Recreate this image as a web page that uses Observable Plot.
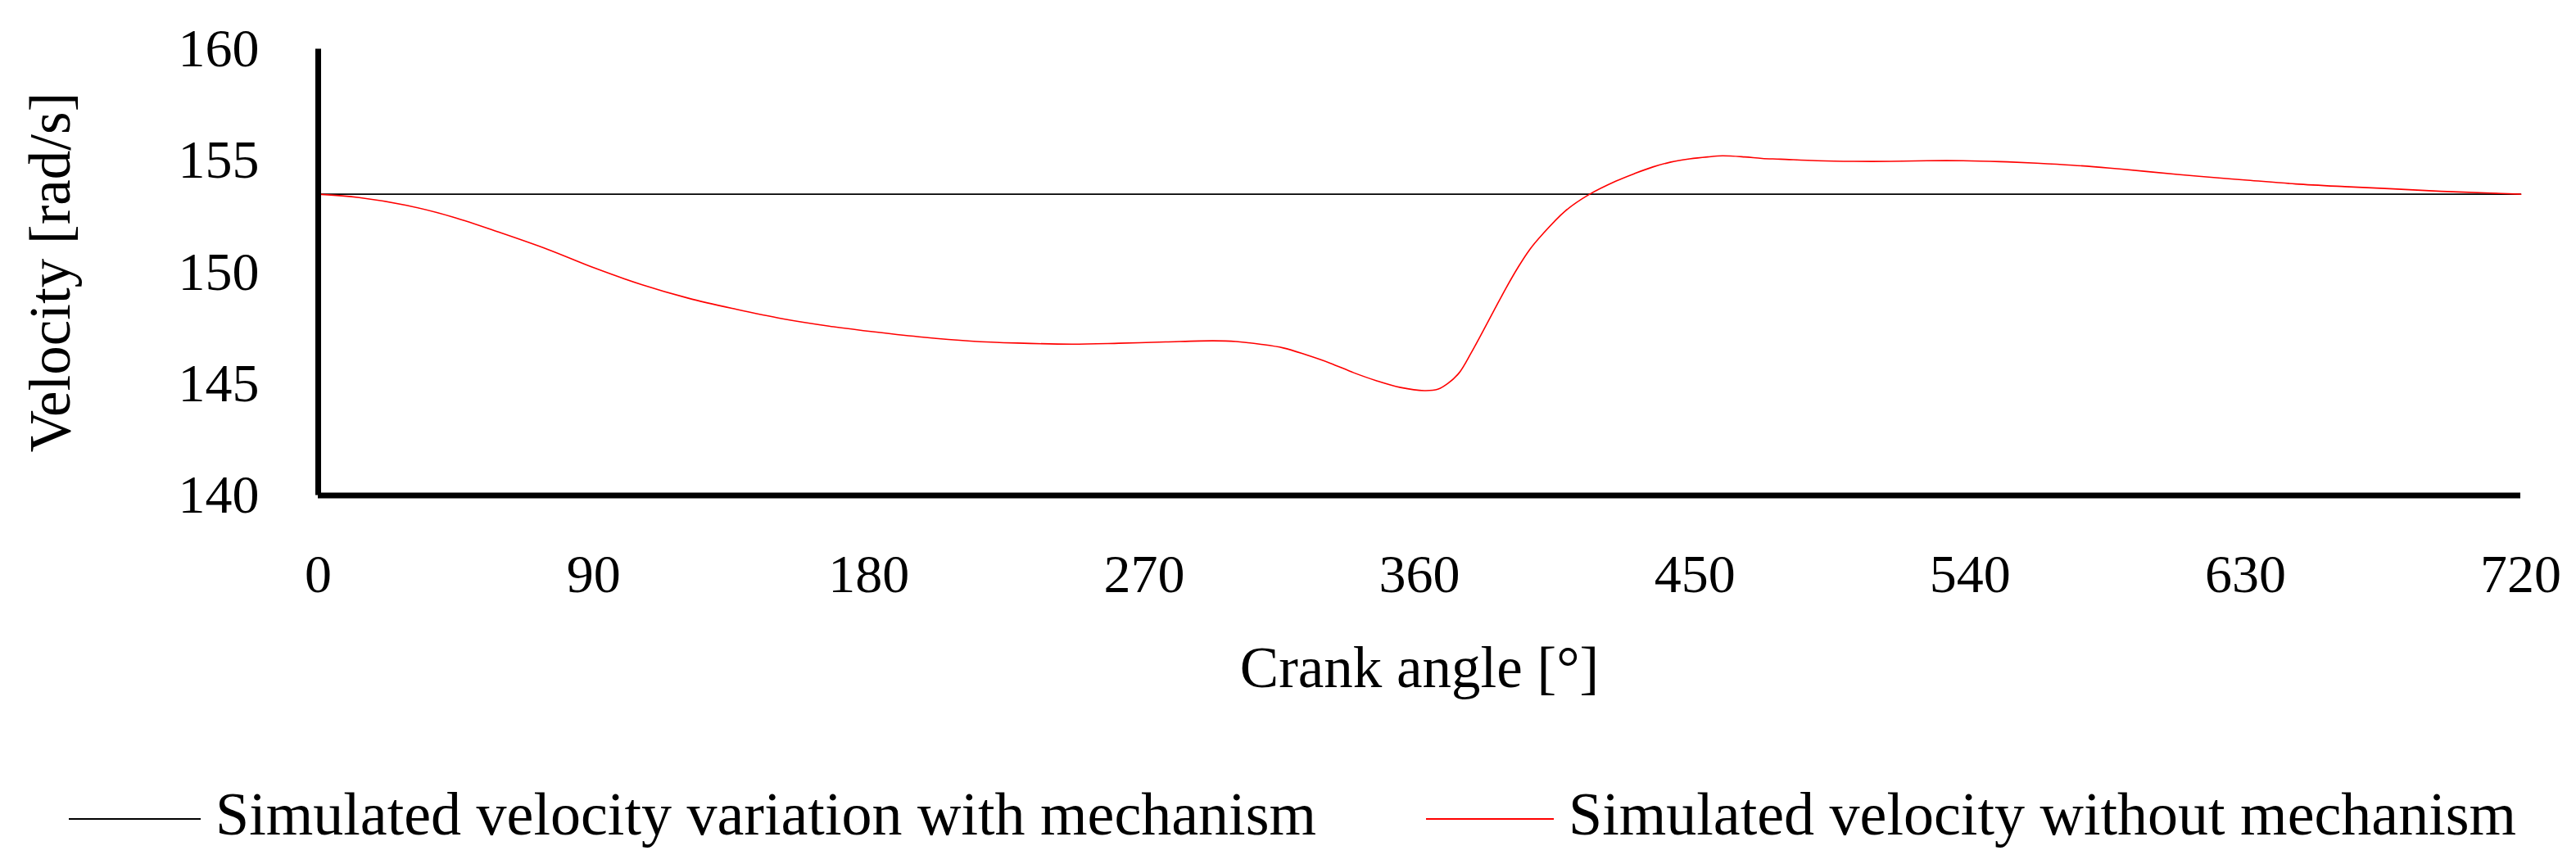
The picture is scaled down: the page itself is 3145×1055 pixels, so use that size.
<!DOCTYPE html>
<html>
<head>
<meta charset="utf-8">
<script src="https://cdn.jsdelivr.net/npm/d3@7"></script>
<script src="https://cdn.jsdelivr.net/npm/@observablehq/plot@0.6"></script>
<style>
  html, body { margin: 0; padding: 0; background: #fff; }
  #wrap { width: 3145px; font-family: "Liberation Serif", serif; color: #000; }
  #legend { position: relative; width: 3145px; height: 125px; font-family: "Liberation Serif", serif; font-size: 74px; }
  .sw { position: absolute; height: 0; }
  .lb { position: absolute; line-height: 1; white-space: nowrap; }
</style>
</head>
<body>
<div id="wrap"><div id="chart"></div><div id="legend"></div></div>
<script>
// ---- data ----
const seriesNames = ["Simulated velocity variation with mechanism", "Simulated velocity without mechanism"];
const seriesColors = ["#000000", "#ff0000"];

const withAngles = [0, 720];
const withVelocity = [153.5, 153.5];

const withoutAngles = [0, 13.4, 28.9, 44.2, 59.7, 75, 90.2, 105.7, 121, 136.5, 151.8, 167, 182.5, 197.8, 213.3, 228.6, 246.3, 261.7, 277, 292.5, 300, 307.8, 315.5, 323, 330.8, 338.5, 346, 353.8, 361.6, 366, 369.3, 373, 376.9, 380.8, 384.6, 388.4, 392.3, 396.1, 400, 407.6, 415.4, 424.3, 430.4, 436.3, 442.2, 448.3, 454.2, 459, 466.3, 472, 478, 490, 502, 514, 526, 537.7, 549.8, 561.8, 573.5, 585.6, 597.6, 614.8, 630.6, 646.4, 662.5, 678.3, 694, 710, 720];
const withoutVelocity = [153.5, 153.35, 153.0, 152.47, 151.77, 151.03, 150.2, 149.45, 148.84, 148.35, 147.92, 147.59, 147.32, 147.09, 146.92, 146.83, 146.78, 146.82, 146.88, 146.93, 146.9, 146.78, 146.61, 146.3, 145.93, 145.5, 145.14, 144.84, 144.7, 144.76, 145.02, 145.5, 146.39, 147.37, 148.35, 149.32, 150.24, 151.03, 151.67, 152.74, 153.48, 154.09, 154.43, 154.72, 154.94, 155.08, 155.17, 155.22, 155.17, 155.10, 155.07, 155.0, 154.97, 154.97, 155.0, 155.0, 154.96, 154.89, 154.8, 154.67, 154.52, 154.3, 154.13, 153.96, 153.84, 153.74, 153.63, 153.55, 153.5];

const xTicks = [0, 90, 180, 270, 360, 450, 540, 630, 720];
const yTicks = [140, 145, 150, 155, 160];
const xLabel = "Crank angle [°]";
const yLabel = "Velocity [rad/s]";

// ---- build tables ----
const withData = withAngles.map((a, i) => ({angle: a, v: withVelocity[i]}));
const withoutData = withoutAngles.map((a, i) => ({angle: a, v: withoutVelocity[i]}));

const W = 3145, H = 930;
const chart = Plot.plot({
  width: W,
  height: H,
  marginLeft: 388,
  marginRight: 68,
  marginTop: 59.5,
  marginBottom: 325.5,
  x: {domain: [0, 720]},
  y: {domain: [140, 160]},
  style: {fontFamily: "Liberation Serif", fontSize: "66px", background: "#fff", color: "#000", overflow: "visible"},
  marks: [
    Plot.axisX({ticks: xTicks, tickSize: 0, tickPadding: 71.5, tickFormat: d => String(d), label: null, fontSize: 66}),
    Plot.axisY({ticks: yTicks, tickSize: 0, tickPadding: 72, tickFormat: d => String(d), label: null, fontSize: 66}),
    Plot.line(withData, {x: "angle", y: "v", stroke: seriesColors[0], strokeWidth: 1.6}),
    Plot.line(withoutData, {x: "angle", y: "v", stroke: seriesColors[1], strokeWidth: 1.6, curve: "catmull-rom"}),
    Plot.ruleX([0], {y1: 140, y2: 160, stroke: "#000", strokeWidth: 7}),
    Plot.ruleY([140], {stroke: "#000", strokeWidth: 7}),
    Plot.text([xLabel], {text: d => d, frameAnchor: "bottom", textAnchor: "middle", lineAnchor: "bottom", dy: 233.5, fontSize: 71}),
    Plot.text([yLabel], {text: d => d, frameAnchor: "left", textAnchor: "middle", lineAnchor: "bottom", rotate: -90, dx: -304, fontSize: 71})
  ]
});
document.getElementById("chart").appendChild(chart);

// ---- legend (HTML, below the SVG) ----
const legend = document.getElementById("legend");
const swLeft = [84, 1741], swWidth = [161, 156], lbLeft = [263, 1915];
seriesNames.forEach((name, i) => {
  const sw = document.createElement("div");
  sw.className = "sw";
  sw.style.left = swLeft[i] + "px";
  sw.style.width = swWidth[i] + "px";
  sw.style.top = (70 - 1) + "px";
  sw.style.borderTop = "2px solid " + seriesColors[i];
  legend.appendChild(sw);
  const lb = document.createElement("div");
  lb.className = "lb";
  lb.style.left = lbLeft[i] + "px";
  lb.style.top = "27px";
  lb.textContent = name;
  legend.appendChild(lb);
});
</script>
</body>
</html>
